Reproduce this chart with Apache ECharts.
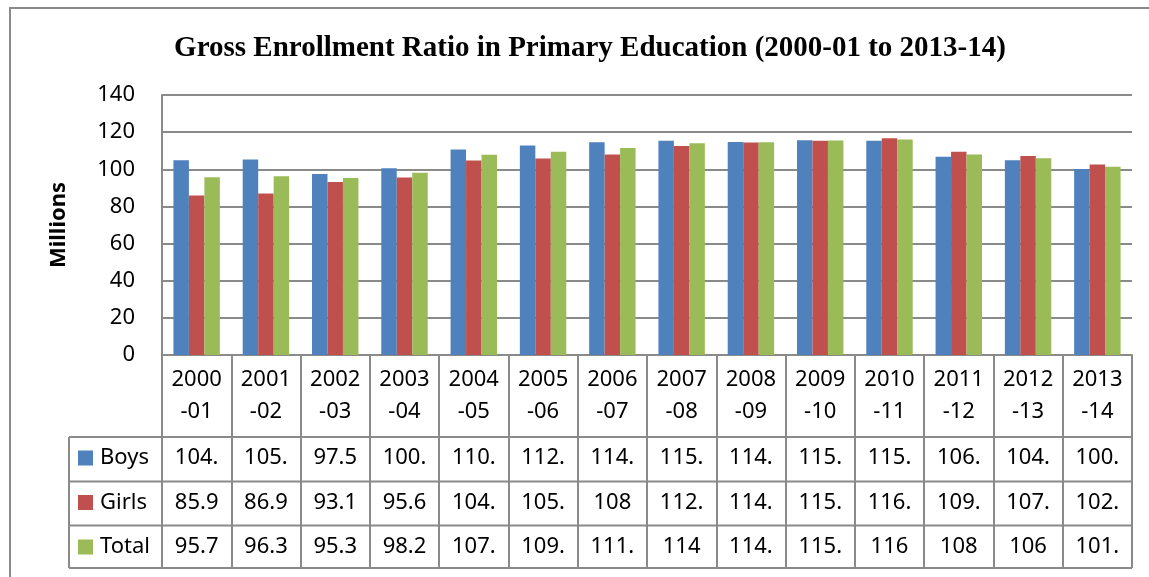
<!DOCTYPE html>
<html>
<head>
<meta charset="utf-8">
<script src="https://cdn.jsdelivr.net/npm/echarts@6/dist/echarts.min.js"></script>
<style>
html,body{margin:0;padding:0;background:#fff;}
#c{width:1149px;height:577px;}
</style>
</head>
<body>
<div id="c"></div>
<script>
const categories = ['2000-01','2001-02','2002-03','2003-04','2004-05','2005-06','2006-07','2007-08','2008-09','2009-10','2010-11','2011-12','2012-13','2013-14'];
const boys  = [104.9,105.3,97.5,100.6,110.7,112.8,114.6,115.3,114.7,115.6,115.4,106.8,104.8,100.2];
const girls = [85.9,86.9,93.1,95.6,104.7,105.8,108,112.6,114.4,115.4,116.7,109.4,107.2,102.6];
const total = [95.7,96.3,95.3,98.2,107.8,109.4,111.4,114,114.6,115.5,116,108,106,101.4];
const seriesNames = ['Boys','Girls','Total'];
const yTicks = [0,20,40,60,80,100,120,140];

const colors = ['#4F81BD','#C0504D','#9BBB59'];
const lineGray = '#8a8a8a';
const FONT = 'Noto Sans';

function cell(v){
  if (Number.isInteger(v)) return String(v);
  return v.toFixed(1).slice(0,4);
}

const gridLeft = 162, gridRight = 1132, gridTop = 95, gridBottom = 355;
const rowY = [437, 481.5, 525.5, 568];

const chart = echarts.init(document.getElementById('c'), null, {renderer:'canvas'});

const graphics = [
  {type:'polyline', shape:{points:[[10,577],[10,8],[1149,8]]}, style:{stroke:lineGray, lineWidth:2, fill:null}, silent:true},
  ...rowY.map(y => ({type:'line', shape:{x1:69,y1:y,x2:gridRight,y2:y}, style:{stroke:lineGray,lineWidth:2}, silent:true})),
  {type:'line', shape:{x1:69,y1:rowY[0],x2:69,y2:rowY[3]}, style:{stroke:lineGray,lineWidth:2}, silent:true}
];

const option = {
  backgroundColor:'#fff',
  animation:false,
  color: colors,
  title:{
    text:'Gross Enrollment Ratio in Primary Education (2000-01 to 2013-14)',
    left:585, textAlign:'center', top:29,
    textStyle:{fontFamily:'Liberation Serif', fontWeight:'bold', fontSize:29, color:'#000'}
  },
  legend:{
    orient:'vertical', left:78, top:447, padding:0,
    itemWidth:15, itemHeight:15, itemGap:22.5,
    icon:'rect',
    textStyle:{fontFamily:FONT, fontSize:22, color:'#000', lineHeight:22, padding:[0,0,0,2]},
    data:seriesNames
  },
  grid:{left:gridLeft, right:1149-gridRight, top:gridTop, bottom:577-gridBottom, containLabel:false},
  xAxis:{
    type:'category',
    data:categories,
    boundaryGap:true,
    axisLine:{show:true, lineStyle:{color:lineGray, width:2}},
    axisTick:{show:true, length:213, interval:0, lineStyle:{color:lineGray, width:2}},
    axisLabel:{
      interval:0, margin:9, verticalAlign:'top', align:'center',
      formatter:function(val, idx){
        const parts = val.split('-');
        return '{h|' + parts[0] + '}\n{h|-' + parts[1] + '}\n{s| }\n{v|' + cell(boys[idx]) + '}\n{v|' + cell(girls[idx]) + '}\n{v|' + cell(total[idx]) + '}';
      },
      rich:{
        h:{fontFamily:FONT, fontSize:22, lineHeight:32, color:'#000'},
        s:{fontSize:4, lineHeight:8},
        v:{fontFamily:FONT, fontSize:22, lineHeight:44.3, color:'#000'}
      }
    }
  },
  yAxis:{
    type:'value', min:0, max:140, interval:20,
    name:'Millions', nameLocation:'middle', nameGap:92, nameRotate:90,
    nameTextStyle:{fontFamily:FONT, fontWeight:'bold', fontSize:22, color:'#000'},
    axisLine:{show:true, lineStyle:{color:lineGray, width:2}},
    axisTick:{show:false},
    axisLabel:{fontFamily:FONT, fontSize:22, color:'#000', margin:27,
      formatter:function(v){ return yTicks.indexOf(v) >= 0 ? String(v) : ''; }},
    splitLine:{show:true, lineStyle:{color:lineGray, width:2}}
  },
  series:[
    {name:seriesNames[0], type:'bar', data:boys, barGap:'0%', barCategoryGap:'33%', itemStyle:{color:colors[0]}},
    {name:seriesNames[1], type:'bar', data:girls, barGap:'0%', barCategoryGap:'33%', itemStyle:{color:colors[1]}},
    {name:seriesNames[2], type:'bar', data:total, barGap:'0%', barCategoryGap:'33%', itemStyle:{color:colors[2]}}
  ],
  graphic: graphics
};
chart.setOption(option);
</script>
</body>
</html>
